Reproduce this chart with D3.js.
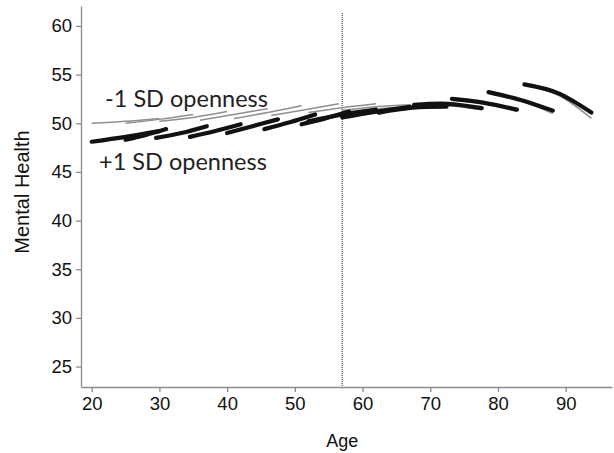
<!DOCTYPE html>
<html>
<head>
<meta charset="utf-8">
<script src="https://cdn.jsdelivr.net/npm/d3@7"></script>
<style>
  body { margin: 0; background: #fff; }
  svg { display: block; }
</style>
</head>
<body>
<div id="chart"></div>
<script>
// +1 SD openness (thick black): age span of each cohort piece and its start / middle / end value
const highFrom  = [20, 25, 29.5, 34.5, 40, 45.5, 51, 52, 57, 62.4, 67.6, 73.2, 78.6, 83.9];
const highTo    = [30, 31, 37, 42, 47.5, 53, 58, 62, 67, 72.4, 77.6, 82.8, 88.1, 93.8];
const highStart = [48.1, 48.3, 48.5, 48.6, 49.0, 49.4, 49.9, 50.2, 50.6, 51.1, 51.9, 52.5, 53.2, 54.0];
const highMid   = [48.6, 48.8, 49.0, 49.2, 49.7, 50.1, 50.5, 50.9, 51.2, 51.6, 52.0, 52.1, 52.4, 53.1];
const highEnd   = [49.2, 49.4, 49.7, 49.9, 50.4, 50.9, 51.2, 51.4, 51.7, 51.7, 51.55, 51.4, 51.3, 51.1];

// -1 SD openness (thin grey)
const lowFrom  = [20, 25, 30, 36, 41, 46.5, 52, 57, 62.4, 67.6, 73.2, 78.6, 83.9];
const lowTo    = [30, 35, 40, 46, 51, 56.5, 62, 67, 72.4, 77.6, 82.8, 88.1, 93.8];
const lowStart = [50.0, 50.0, 50.2, 50.3, 50.5, 50.8, 51.1, 51.3, 51.5, 51.8, 52.4, 53.1, 53.9];
const lowMid   = [50.2, 50.4, 50.6, 50.9, 51.1, 51.4, 51.6, 51.7, 51.7, 51.8, 52.0, 52.3, 52.9];
const lowEnd   = [50.5, 50.9, 51.2, 51.5, 51.8, 52.0, 52.0, 51.9, 51.7, 51.4, 51.2, 51.0, 50.5];

const xTicks = [20, 30, 40, 50, 60, 70, 80, 90];
const yTicks = [25, 30, 35, 40, 45, 50, 55, 60];
const cutAge = 57;

const width = 614, height = 453;

const svg = d3.select("#chart").append("svg")
  .attr("width", width)
  .attr("height", height);

const x = d3.scaleLinear().domain([18.42, 96.84]).range([81, 612]);
const y = d3.scaleLinear().domain([22.9, 62.05]).range([387, 6]);

// axes
const xAxis = svg.append("g")
  .attr("transform", `translate(0,${y(22.9)})`)
  .call(d3.axisBottom(x).tickValues(xTicks).tickSize(5).tickSizeOuter(0).tickPadding(5));
const yAxis = svg.append("g")
  .attr("transform", `translate(${x(18.42)},0)`)
  .call(d3.axisLeft(y).tickValues(yTicks).tickSize(5).tickSizeOuter(0).tickPadding(4));

[xAxis, yAxis].forEach(g => {
  g.selectAll("path, line").attr("stroke", "#8c8c8c").attr("stroke-width", 1.3);
  g.selectAll("text")
    .attr("fill", "#111")
    .style("font-family", "'Liberation Sans', Arial, sans-serif")
    .style("font-size", "18.5px");
});

svg.append("text")
  .attr("x", x(cutAge))
  .attr("y", 442)
  .attr("text-anchor", "middle")
  .attr("dominant-baseline", "middle")
  .style("font-family", "'Liberation Sans', Arial, sans-serif")
  .style("font-size", "18px")
  .attr("fill", "#111")
  .text("Age");

svg.append("text")
  .attr("transform", "translate(24,192) rotate(-90)")
  .attr("text-anchor", "middle")
  .attr("dominant-baseline", "middle")
  .style("font-family", "'Liberation Sans', Arial, sans-serif")
  .style("font-size", "20px")
  .attr("fill", "#111")
  .text("Mental Health");

// dotted reference line
svg.append("line")
  .attr("x1", x(cutAge)).attr("x2", x(cutAge))
  .attr("y1", 13).attr("y2", y(22.9))
  .attr("stroke", "#444")
  .attr("stroke-width", 1.2)
  .attr("stroke-dasharray", "1,1");

const line = d3.line()
  .x(d => x(d[0]))
  .y(d => y(d[1]))
  .curve(d3.curveNatural);

function pieces(from, to, starts, mids, ends) {
  return from.map((a, i) => [
    [a, starts[i]],
    [(a + to[i]) / 2, mids[i]],
    [to[i], ends[i]]
  ]);
}

svg.append("g").selectAll("path")
  .data(pieces(lowFrom, lowTo, lowStart, lowMid, lowEnd))
  .join("path")
  .attr("d", line)
  .attr("fill", "none")
  .attr("stroke", "#8f8f8f")
  .attr("stroke-width", 1.5);

svg.append("g").selectAll("path")
  .data(pieces(highFrom, highTo, highStart, highMid, highEnd))
  .join("path")
  .attr("d", line)
  .attr("fill", "none")
  .attr("stroke", "#111")
  .attr("stroke-width", 4.2)
  .attr("stroke-linecap", "round");

// annotations
svg.append("text")
  .attr("x", 105).attr("y", 107)
  .style("font-family", "Lato, 'Open Sans', sans-serif")
  .style("font-size", "23.5px")
  .attr("fill", "#222")
  .text("-1 SD openness");

svg.append("text")
  .attr("x", 99).attr("y", 170)
  .style("font-family", "Lato, 'Open Sans', sans-serif")
  .style("font-size", "23.5px")
  .attr("fill", "#222")
  .text("+1 SD openness");
</script>
</body>
</html>
